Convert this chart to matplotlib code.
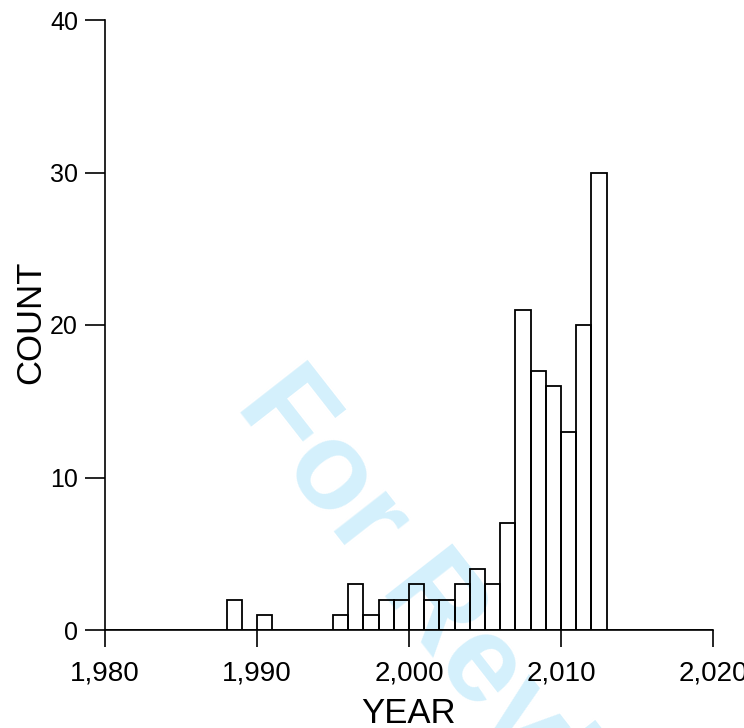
import matplotlib
matplotlib.use("Agg")
import matplotlib.pyplot as plt

# ---- data ----
bin_starts = list(range(1980, 2020))
counts = [0, 0, 0, 0, 0, 0, 0, 0, 2, 0,
          1, 0, 0, 0, 0, 1, 3, 1, 2, 2,
          3, 2, 2, 3, 4, 3, 7, 21, 17, 16,
          13, 20, 30, 0, 0, 0, 0, 0, 0, 0]
x_ticks = [1980, 1990, 2000, 2010, 2020]
x_tick_labels = ["1,980", "1,990", "2,000", "2,010", "2,020"]
y_ticks = [0, 10, 20, 30, 40]
y_tick_labels = ["0", "10", "20", "30", "40"]
x_label = "YEAR"
y_label = "COUNT"
watermark = "For Review"

W, H = 744, 728
fig = plt.figure(figsize=(W / 100, H / 100), dpi=100)
ax = fig.add_axes([105 / W, 98 / H, 608 / W, 610 / H])

# watermark (behind bars)
fig.text(234.5 / W, 1 - 405 / H, watermark, rotation=-52, rotation_mode="anchor",
         ha="left", va="baseline", fontsize=89, fontweight="bold",
         family=["Liberation Sans", "DejaVu Sans"], color="#d4f0fc", zorder=0)
ax.set_zorder(1)
ax.patch.set_visible(False)

ax.bar(bin_starts, counts, width=1.0, align="edge", facecolor="none",
       edgecolor="black", linewidth=1.3)

ax.set_xlim(1980, 2020)
ax.set_ylim(0, 40)
for s in ("top", "right"):
    ax.spines[s].set_visible(False)
for s in ("left", "bottom"):
    ax.spines[s].set_linewidth(1.2)

ax.set_xticks(x_ticks)
ax.set_xticklabels(x_tick_labels, family=["Liberation Sans Narrow", "Liberation Sans"], fontsize=20)
ax.set_yticks(y_ticks)
ax.set_yticklabels(y_tick_labels, family=["Liberation Sans", "DejaVu Sans"], fontsize=18)
ax.tick_params(axis="x", direction="out", length=12, width=1.2, pad=10)
ax.tick_params(axis="y", direction="out", length=14.4, width=1.2, pad=5)

ax.set_xlabel(x_label, family=["Liberation Sans", "DejaVu Sans"], fontsize=25)
ax.xaxis.label.set_va("baseline")
ax.xaxis.set_label_coords(0.5, (630 - 723) / 610)

ax.set_ylabel(y_label, family=["Liberation Sans", "DejaVu Sans"], fontsize=25)
ax.yaxis.label.set_rotation_mode("anchor")
ax.yaxis.label.set_va("baseline")
ax.yaxis.label.set_ha("center")
ax.yaxis.set_label_coords((40 - 105) / 608, (630 - 322) / 610)

fig.savefig("out.png", dpi=100)
